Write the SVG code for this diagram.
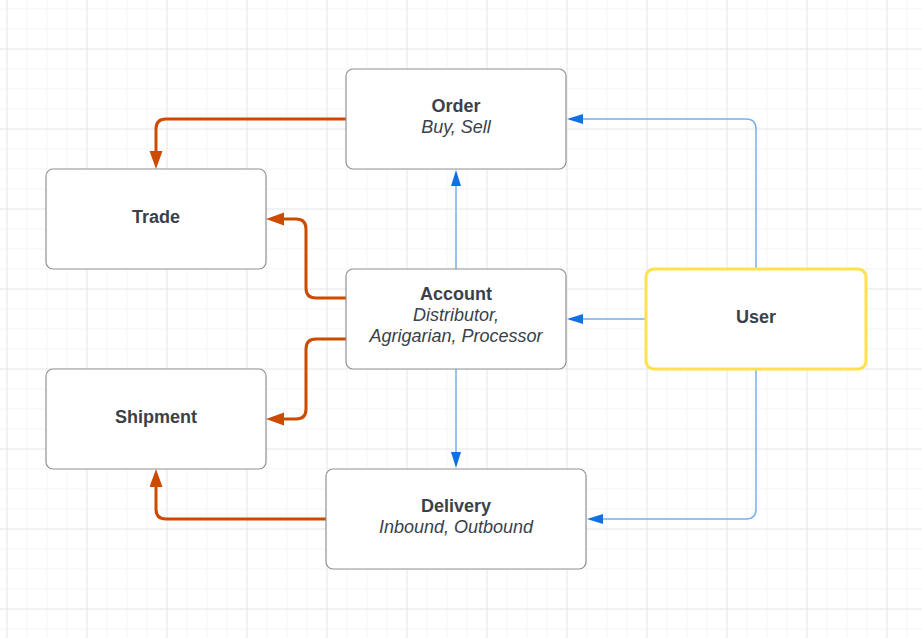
<svg xmlns="http://www.w3.org/2000/svg" width="922" height="638" viewBox="0 0 922 638">
<defs>
<pattern id="minor" x="6.5" y="8.5" width="20" height="20" patternUnits="userSpaceOnUse">
<path d="M0,0 H20 M0,0 V20" fill="none" stroke="#ececec" stroke-width="1"/>
</pattern>
<pattern id="major" x="6.5" y="8.5" width="80" height="80" patternUnits="userSpaceOnUse">
<path d="M80,40 H0 M0,0 H80" fill="none" stroke="none"/>
</pattern>
<pattern id="majorv" x="86.5" y="48.5" width="80" height="80" patternUnits="userSpaceOnUse">
<path d="M0,0 H80 M0,0 V80" fill="none" stroke="#dcdcdc" stroke-width="1"/>
</pattern>
<marker id="ao" markerUnits="userSpaceOnUse" markerWidth="20" markerHeight="14" refX="4" refY="6.5" orient="auto">
<path d="M0,0 L18,6.5 L0,13 z" fill="#cc4b00"/>
</marker>
<marker id="ab" markerUnits="userSpaceOnUse" markerWidth="18" markerHeight="12" refX="4" refY="5" orient="auto">
<path d="M0,0 L16,5 L0,10 z" fill="#1071e5"/>
</marker>
</defs>
<style>
.box{fill:#ffffff;stroke:#8e9196;stroke-width:1.2}
.user{fill:#ffffff;stroke:#ffe14d;stroke-width:3}
.t{font-family:"Liberation Sans",Arial,sans-serif;font-size:18px;fill:#3a414a;text-anchor:middle}
.b{font-weight:bold}
.i{font-style:italic}
.o{fill:none;stroke:#cc4b00;stroke-width:3;marker-end:url(#ao)}
.bl{fill:none;stroke:#76aef0;stroke-width:1.5;marker-end:url(#ab)}
</style>
<rect width="922" height="638" fill="#ffffff"/>
<rect width="922" height="638" fill="url(#minor)"/>
<rect width="922" height="638" fill="url(#majorv)"/>
<g id="connectors">
<path class="o" d="M346,119 H166 Q156,119 156,129 V155"/>
<path class="o" d="M346,298 H316 Q306,298 306,288 V229 Q306,219 296,219 H280"/>
<path class="o" d="M346,339 H316 Q306,339 306,349 V409 Q306,419 296,419 H280"/>
<path class="o" d="M326,519 H166 Q156,519 156,509 V483"/>
<path class="bl" d="M756,269 V129 Q756,119 746,119 H579"/>
<path class="bl" d="M646,319 H579"/>
<path class="bl" d="M756,369 V509 Q756,519 746,519 H599"/>
<path class="bl" d="M456,269 V182"/>
<path class="bl" d="M456,369 V456"/>
</g>
<g id="order">
<rect class="box" x="346" y="69" width="220" height="100" rx="7"/>
<text class="t b" x="456" y="112">Order</text>
<text class="t i" x="456" y="133">Buy, Sell</text>
</g>
<g id="trade">
<rect class="box" x="46" y="169" width="220" height="100" rx="7"/>
<text class="t b" x="156" y="222.5">Trade</text>
</g>
<g id="account">
<rect class="box" x="346" y="269" width="220" height="100" rx="7"/>
<text class="t b" x="456" y="299.5">Account</text>
<text class="t i" x="456" y="321">Distributor,</text>
<text class="t i" x="456" y="342">Agrigarian, Processor</text>
</g>
<g id="shipment">
<rect class="box" x="46" y="369" width="220" height="100" rx="7"/>
<text class="t b" x="156" y="422.5">Shipment</text>
</g>
<g id="delivery">
<rect class="box" x="326" y="469" width="260" height="100" rx="7"/>
<text class="t b" x="456" y="512">Delivery</text>
<text class="t i" x="456" y="532.5">Inbound, Outbound</text>
</g>
<g id="user">
<rect class="user" x="646" y="269" width="220" height="100" rx="8"/>
<text class="t b" x="756" y="322.5">User</text>
</g>
</svg>
